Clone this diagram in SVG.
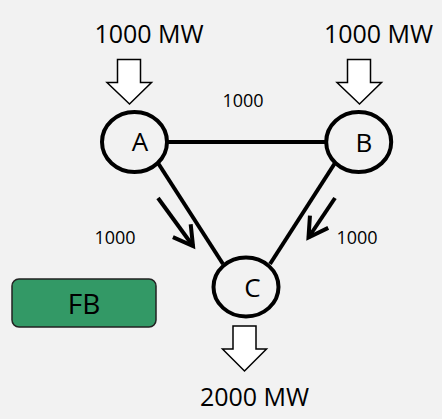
<svg xmlns="http://www.w3.org/2000/svg" width="442" height="419" viewBox="0 0 442 419">
<defs>
<style>
.t{font-family:"Open Sans","Liberation Sans",sans-serif;fill:#000}
.big{font-size:25px}
.sm{font-size:18px}
.lt{font-size:26px}
.node{fill:none;stroke:#000;stroke-width:4}
.blk{fill:#fff;stroke:#000;stroke-width:1.5}
.ln{stroke:#000;stroke-width:4;fill:none}
</style>
<marker id="chev" markerUnits="userSpaceOnUse" viewBox="-25 -15 30 30" refX="0" refY="0" markerWidth="30" markerHeight="30" orient="auto">
<path d="M-19,-11 L0,0 L-19,11" fill="none" stroke="#000" stroke-width="4" stroke-linecap="butt" stroke-linejoin="miter"/>
</marker>
</defs>
<rect width="442" height="419" fill="#f2f2f2"/>
<g id="connectors">
<line class="ln" x1="168" y1="142" x2="325" y2="142"/>
<line class="ln" x1="158" y1="163" x2="223" y2="264"/>
<line class="ln" x1="335" y1="163" x2="270" y2="264"/>
<line class="ln" x1="158" y1="198" x2="193" y2="246" marker-end="url(#chev)"/>
<line class="ln" x1="335" y1="198" x2="308.5" y2="237.5" marker-end="url(#chev)"/>
<text class="t sm" x="243" y="107" text-anchor="middle">1000</text>
<text class="t sm" x="115" y="244" text-anchor="middle">1000</text>
<text class="t sm" x="357" y="244" text-anchor="middle">1000</text>
</g>
<g id="input-A">
<path class="blk" d="M117.5,59.5 H140.5 V82.5 H151.5 L129.5,104 L107,82.5 H117.5 Z"/>
<text class="t big" x="149" y="43" text-anchor="middle">1000 MW</text>
</g>
<g id="input-B">
<path class="blk" d="M347.5,59.5 H370.5 V82.5 H381.5 L359.5,104 L337,82.5 H347.5 Z"/>
<text class="t big" x="378.5" y="43" text-anchor="middle">1000 MW</text>
</g>
<g id="output-C">
<path class="blk" d="M233,326 H256 V349 H266.5 L244.5,371 L222.5,349 H233 Z"/>
<text class="t big" x="254.5" y="406" text-anchor="middle">2000 MW</text>
</g>
<g id="node-A">
<ellipse class="node" cx="134.5" cy="142" rx="32.5" ry="30"/>
<text class="t lt" x="140" y="151" text-anchor="middle">A</text>
</g>
<g id="node-B">
<ellipse class="node" cx="358.7" cy="142" rx="32.5" ry="30"/>
<text class="t lt" x="364" y="151.5" text-anchor="middle">B</text>
</g>
<g id="node-C">
<ellipse class="node" cx="246" cy="287" rx="32.5" ry="29.5"/>
<text class="t lt" x="252.5" y="297" text-anchor="middle">C</text>
</g>
<g id="FB">
<rect x="12" y="279" width="144" height="48" rx="7" fill="#339966" stroke="#222" stroke-width="1.5"/>
<text class="t" x="84" y="314" text-anchor="middle" font-size="28">FB</text>
</g>
</svg>
